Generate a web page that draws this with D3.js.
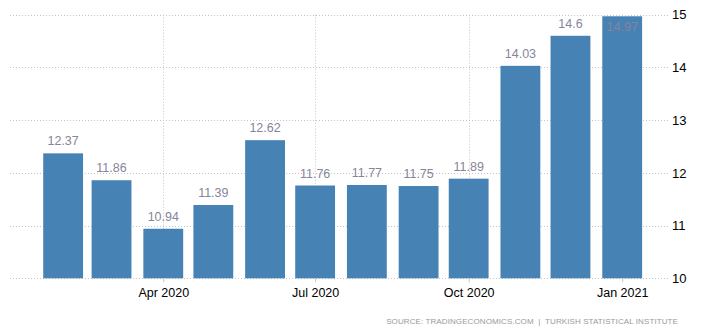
<!DOCTYPE html>
<html>
<head>
<meta charset="utf-8">
<script src="https://cdn.jsdelivr.net/npm/d3@7"></script>
<style>
  html, body { margin: 0; padding: 0; background: #fff; }
  svg { display: block; font-family: Arial, "Liberation Sans", sans-serif; }
</style>
</head>
<body>
<svg id="chart" width="712" height="331"></svg>
<script>
// Monthly values, Feb 2020 – Jan 2021
const months = ["2020-02", "2020-03", "2020-04", "2020-05", "2020-06", "2020-07",
                "2020-08", "2020-09", "2020-10", "2020-11", "2020-12", "2021-01"];
const values = [12.37, 11.86, 10.94, 11.39, 12.62, 11.76, 11.77, 11.75, 11.89, 14.03, 14.6, 14.97];
const yTicks = [10, 11, 12, 13, 14, 15];
const xTicks = ["2020-04", "2020-07", "2020-10", "2021-01"];
const xTickLabels = ["Apr 2020", "Jul 2020", "Oct 2020", "Jan 2021"];
const sourceText = "SOURCE: TRADINGECONOMICS.COM  |  TURKISH STATISTICAL INSTITUTE";

const parse = d3.utcParse("%Y-%m");
const svg = d3.select("#chart");

const x = d3.scaleUtc()
  .domain([new Date(Date.UTC(2020, 0, 1)), new Date(Date.UTC(2021, 0, 30))])
  .range([11.4, 670.6]);
const y = d3.scaleLinear().domain([10, 15]).range([278.3, 14.7]);

// bar width: a fixed share of one month's span
const monthSpan = x(new Date(Date.UTC(2020, 3, 1))) - x(new Date(Date.UTC(2020, 2, 1)));
const barW = monthSpan * 0.77;

// horizontal grid
svg.append("g").selectAll("line").data(yTicks).join("line")
  .attr("x1", 10).attr("x2", 670)
  .attr("y1", d => Math.round(y(d)) + 0.5).attr("y2", d => Math.round(y(d)) + 0.5)
  .attr("stroke", "#c4c4c4").attr("stroke-width", 1).attr("stroke-dasharray", "1,2");

// vertical grid at x ticks
svg.append("g").selectAll("line").data(xTicks).join("line")
  .attr("x1", d => Math.round(x(parse(d))) + 0.5).attr("x2", d => Math.round(x(parse(d))) + 0.5)
  .attr("y1", y(15)).attr("y2", y(10))
  .attr("stroke", "#c4c4c4").attr("stroke-width", 1).attr("stroke-dasharray", "1,2");

// bars
svg.append("g").selectAll("rect").data(months).join("rect")
  .attr("x", (d) => x(parse(d)) - barW / 2)
  .attr("width", barW)
  .attr("y", (d, i) => y(values[i]))
  .attr("height", (d, i) => y(10) - y(values[i]))
  .attr("fill", "#4682b4");

// value labels (inside the bar when it reaches the top of the plot)
svg.append("g").selectAll("text").data(months).join("text")
  .attr("x", d => x(parse(d)))
  .attr("y", (d, i) => values[i] > 14.8 ? y(values[i]) + 15 : y(values[i]) - 8)
  .attr("text-anchor", "middle")
  .attr("font-size", 12.5)
  .attr("fill", "#85859a")
  .text((d, i) => String(values[i]));

// x axis
const xAxis = d3.axisBottom(x)
  .tickValues(xTicks.map(parse))
  .tickFormat((d, i) => xTickLabels[i])
  .tickSize(4).tickPadding(6);
const gx = svg.append("g").attr("transform", `translate(0,${y(10)})`).call(xAxis);
gx.select(".domain").remove();
gx.selectAll(".tick line").attr("stroke", "#c4c4c4");
gx.selectAll(".tick text").attr("font-size", 12.5).attr("fill", "#000").attr("font-family", "Arial, 'Liberation Sans', sans-serif");

// y axis on the right
const yAxis = d3.axisRight(y).tickValues(yTicks).tickFormat(d3.format("d")).tickSize(0).tickPadding(4);
const gy = svg.append("g").attr("transform", "translate(668,0)").call(yAxis);
gy.select(".domain").remove();
gy.selectAll(".tick text").attr("font-size", 13).attr("fill", "#000").attr("font-family", "Arial, 'Liberation Sans', sans-serif");

// source note
svg.append("text")
  .attr("x", 678).attr("y", 323.5)
  .attr("text-anchor", "end")
  .attr("font-size", 8)
  .attr("letter-spacing", 0.1)
  .attr("fill", "#999")
  .style("white-space", "pre")
  .text(sourceText);
</script>
</body>
</html>
